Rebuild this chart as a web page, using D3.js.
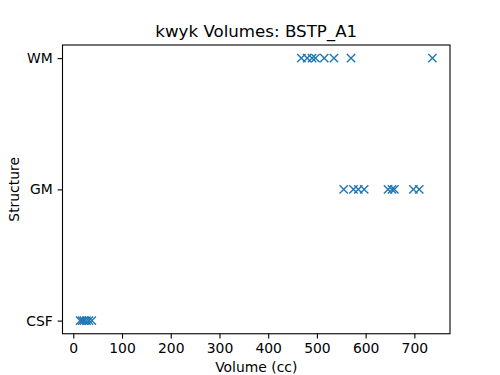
<!DOCTYPE html>
<html><head><meta charset="utf-8">
<script src="https://cdn.jsdelivr.net/npm/d3@7"></script>
<style>body{margin:0;background:#fff}svg{display:block;font-family:"DejaVu Sans",sans-serif}</style>
</head><body>
<svg id="c" width="500" height="375"></svg>
<script>
const categories = ["CSF", "GM", "WM"];
const csfValues = [14, 18, 22, 27, 32, 38];
const gmValues = [555, 575, 585, 597, 646, 654, 659, 698, 710];
const wmValues = [468, 480, 490, 497, 515, 535, 570, 737];
const xTicks = [0, 100, 200, 300, 400, 500, 600, 700];
const title = "kwyk Volumes: BSTP_A1";

const svg = d3.select("#c");
const L = 62.5, R = 450, T = 45, B = 333.75;
const all = csfValues.concat(gmValues, wmValues);
const mn = d3.min(all), mx = d3.max(all), m = (mx - mn) * 0.05;
const x = d3.scaleLinear().domain([mn - m, mx + m]).range([L, R]);
const y = d3.scaleLinear().domain([-0.1, 2.1]).range([B, T]);

const pts = [];
[csfValues, gmValues, wmValues].forEach((arr, i) => arr.forEach(v => pts.push({v, c: i})));

const xAxis = d3.axisBottom(x).tickValues(xTicks).tickSize(4.86).tickPadding(4.86).tickFormat(d3.format("d"));
const gx = svg.append("g").attr("transform", `translate(0,${B})`).call(xAxis);
const yAxis = d3.axisLeft(y).tickValues([0, 1, 2]).tickSize(4.86).tickPadding(4.86).tickFormat(i => categories[i]);
const gy = svg.append("g").attr("transform", `translate(${L},0)`).call(yAxis);
[gx, gy].forEach(g => {
  g.select(".domain").remove();
  g.selectAll("line").attr("stroke", "#000").attr("stroke-width", 1.1);
  g.selectAll("text").attr("font-size", "13.9px").attr("fill", "#000").attr("font-family", "DejaVu Sans");
});

const s = 4.17;
svg.append("g").selectAll("path").data(pts).join("path")
  .attr("d", d => {
    const cx = x(d.v), cy = y(d.c);
    return `M${cx - s},${cy - s}L${cx + s},${cy + s}M${cx - s},${cy + s}L${cx + s},${cy - s}`;
  })
  .attr("stroke", "#1f77b4").attr("stroke-width", 1.39).attr("fill", "none");

svg.append("rect").attr("x", L).attr("y", T).attr("width", R - L).attr("height", B - T)
  .attr("fill", "none").attr("stroke", "#000").attr("stroke-width", 1.1);

svg.append("text").attr("x", (L + R) / 2).attr("y", 36.5).attr("text-anchor", "middle")
  .attr("font-size", "16.67px").text(title);
svg.append("text").attr("x", (L + R) / 2).attr("y", 371.5).attr("text-anchor", "middle")
  .attr("font-size", "13.9px").text("Volume (cc)");
svg.append("text").attr("transform", `translate(18.5,${(T + B) / 2}) rotate(-90)`).attr("text-anchor", "middle")
  .attr("font-size", "13.9px").text("Structure");
</script>
</body></html>
